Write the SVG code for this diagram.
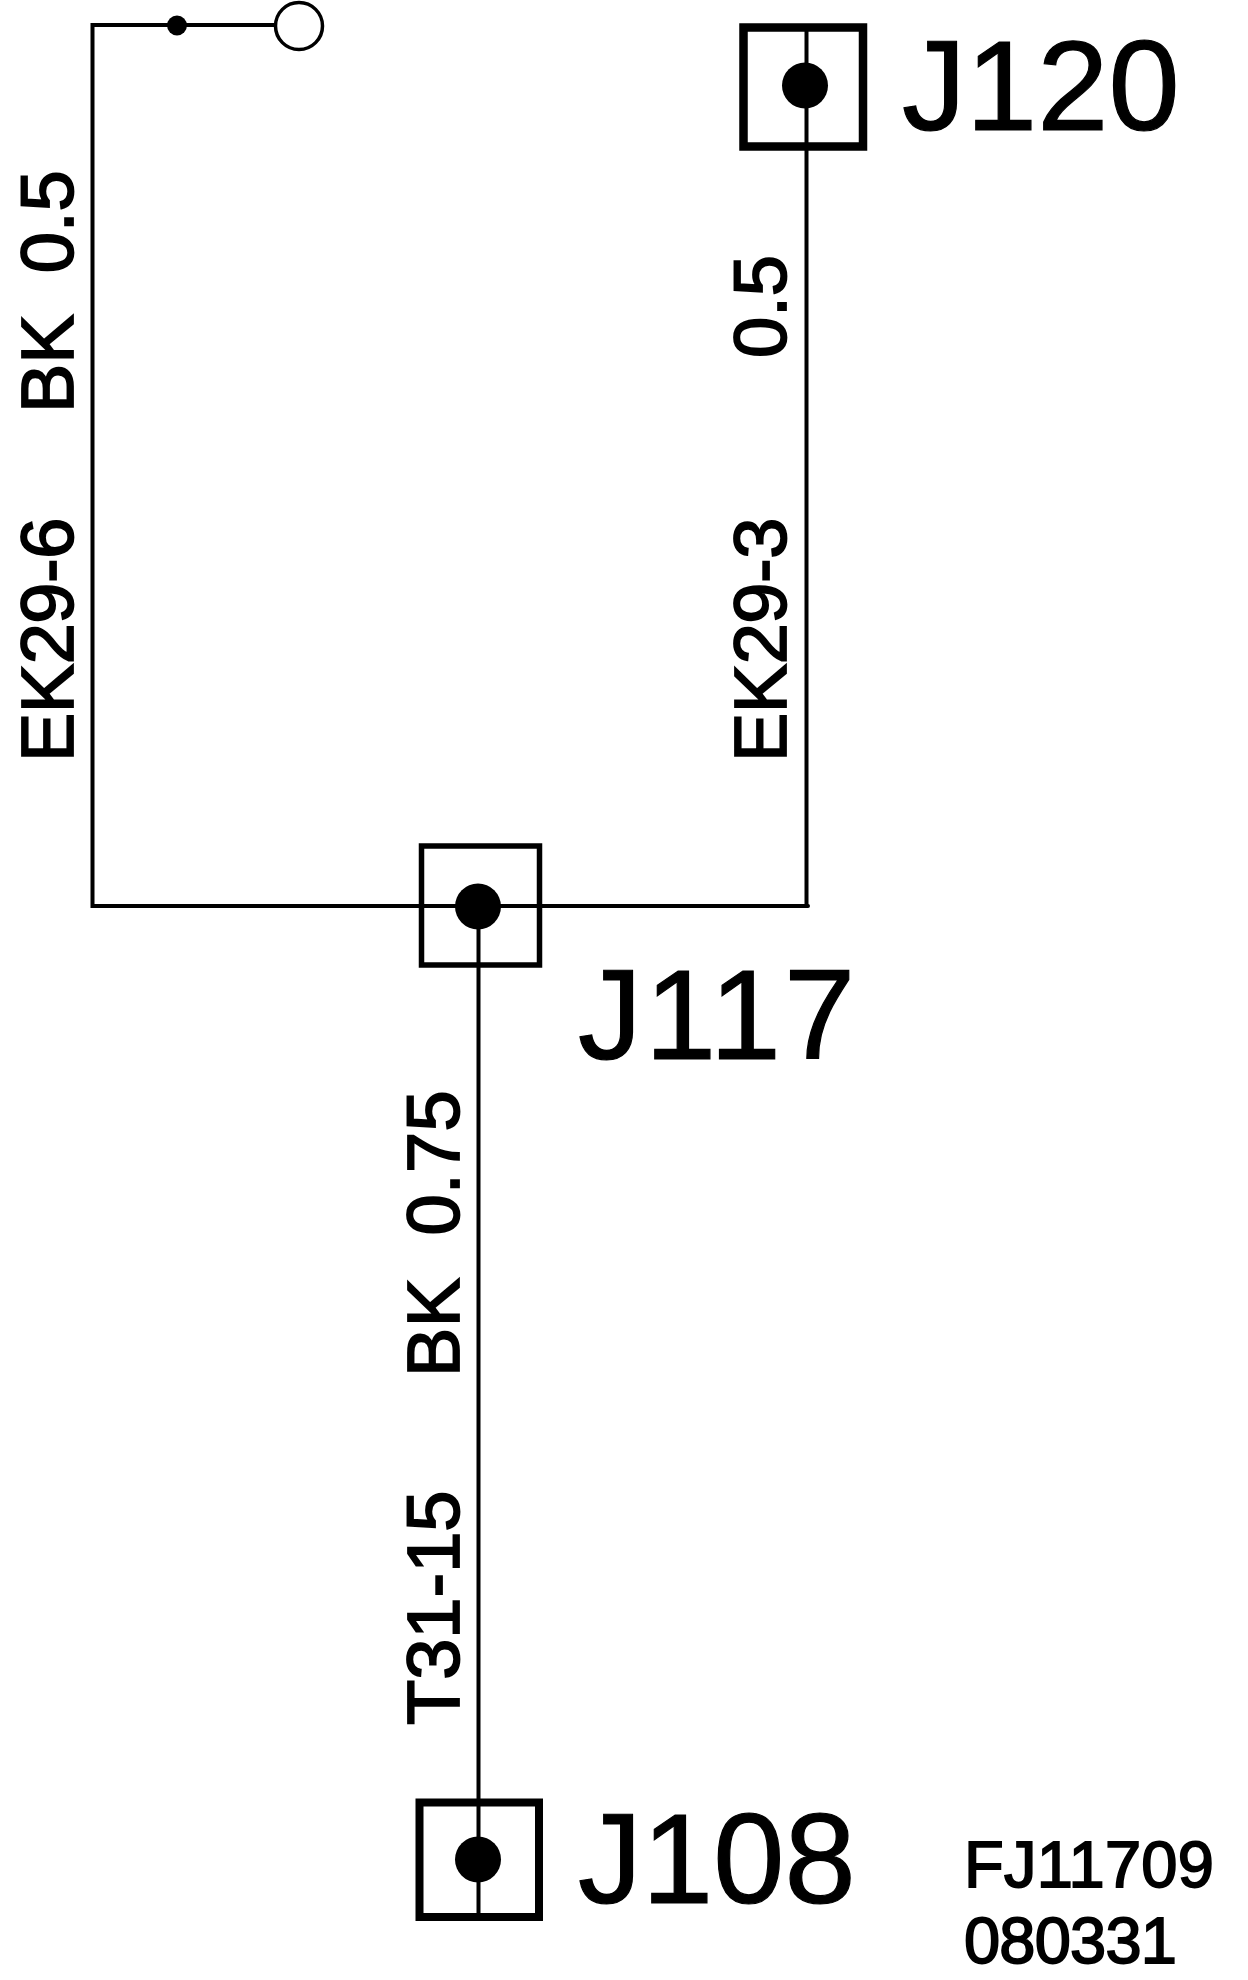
<svg xmlns="http://www.w3.org/2000/svg" width="1248" height="1980" viewBox="0 0 1248 1980">
<style>
text{font-family:"Liberation Sans",Arial,sans-serif;fill:#000}
.big{font-size:128px;stroke:#000;stroke-width:1.200px}
.wl{font-size:74px;stroke:#000;stroke-width:1.800px}
.code{font-size:65px;stroke:#000;stroke-width:1.800px}
.wire{fill:none;stroke:#000;stroke-width:4px;stroke-linecap:round}
.box{fill:none;stroke:#000}
</style>
<rect width="1248" height="1980" fill="#fff"/>
<g id="connectors">
<path class="wire" d="M274 25H92.500V906H808"/>
<path class="wire" d="M806.500 28V906"/>
<path class="wire" d="M478.500 907V1917"/>
</g>
<g id="terminal">
<circle cx="177" cy="25.500" r="10" fill="#000"/>
<circle cx="299" cy="26" r="23.500" fill="#fff" stroke="#000" stroke-width="3.500"/>
</g>
<g id="J120">
<rect class="box" x="743.500" y="27.500" width="119.500" height="119" stroke-width="8.500"/>
<circle cx="805" cy="85.500" r="23"/>
<text class="big" x="902" y="130">J120</text>
</g>
<g id="J117">
<rect class="box" x="421.500" y="846" width="118" height="119" stroke-width="5.500"/>
<circle cx="478" cy="906.500" r="23"/>
<text class="big" x="578" y="1059" letter-spacing="3">J117</text>
</g>
<g id="J108">
<rect class="box" x="419.500" y="1802.500" width="119.500" height="114.500" stroke-width="8"/>
<circle cx="478" cy="1859.500" r="23"/>
<text class="big" x="578" y="1903">J108</text>
</g>
<g id="labels">
<text class="wl" transform="translate(73 762) rotate(-90)" letter-spacing="-0.500">EK29-6</text>
<text class="wl" transform="translate(73 413) rotate(-90)" xml:space="preserve">BK  0.5</text>
<text class="wl" transform="translate(786 762) rotate(-90)" letter-spacing="-0.500">EK29-3</text>
<text class="wl" transform="translate(786 358) rotate(-90)">0.5</text>
<text class="wl" transform="translate(459 1725) rotate(-90)">T31-15</text>
<text class="wl" transform="translate(459 1377) rotate(-90)" xml:space="preserve" letter-spacing="0.400">BK  0.75</text>
<text class="code" x="964" y="1887" letter-spacing="0.300">FJ11709</text>
<text class="code" x="964" y="1963" letter-spacing="-0.800">080331</text>
</g>
</svg>
